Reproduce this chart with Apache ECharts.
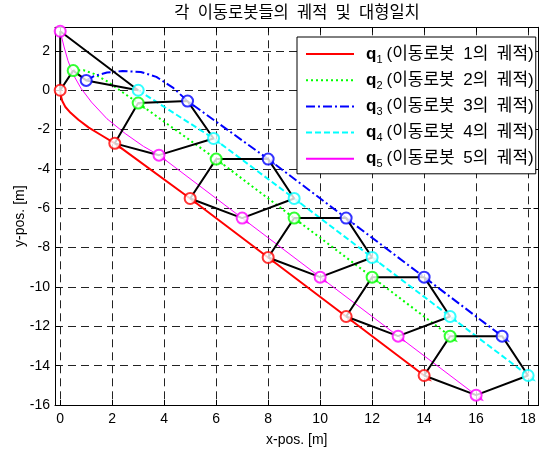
<!DOCTYPE html>
<html><head><meta charset="utf-8">
<script src="https://cdn.jsdelivr.net/npm/echarts@6/dist/echarts.min.js"></script>
<style>html,body{margin:0;padding:0;background:#fff}#c{width:540px;height:453px}</style>
</head><body><div id="c"></div>
<script>
// ---- data ----
const xTicks = [0, 2, 4, 6, 8, 10, 12, 14, 16, 18];
const yTicks = [-16, -14, -12, -10, -8, -6, -4, -2, 0, 2];
const robotIds = ['1', '2', '3', '4', '5'];
const titleText = '각\u2002이동로봇들의\u2002궤적\u2002및\u2002대형일치';
const legendText = ['(이동로봇\u20021의\u2002궤적)', '(이동로봇\u20022의\u2002궤적)', '(이동로봇\u20023의\u2002궤적)', '(이동로봇\u20024의\u2002궤적)', '(이동로봇\u20025의\u2002궤적)'];

// trajectories [x, y]
const q1Path = [[0,0],[0.02,-0.25],[0.08,-0.55],[0.2,-0.85],[0.4,-1.15],[0.7,-1.5],[1.1,-1.9],[1.6,-2.3],[2.1,-2.7],[5,-5.5],[8,-8.5],[11,-11.5],[14,-14.5]];
const q2Path = [[0.5,1],[0.9,1.02],[1.3,0.83],[1.8,0.46],[2.4,-0.1],[3,-0.65],[6,-3.5],[9,-6.5],[12,-9.5],[15,-12.5]];
const q3Path = [[1,0.5],[1.3,0.72],[1.8,0.9],[2.4,0.98],[3.1,0.93],[3.7,0.68],[4.35,0.12],[4.9,-0.55],[8,-3.5],[11,-6.5],[14,-9.5],[17,-12.5]];
const q4Path = [[3,0],[5.9,-2.45],[9,-5.5],[12,-8.5],[15,-11.5],[18,-14.5]];
const q5Path = [[0,3],[0.15,2.2],[0.3,1.5],[0.5,0.8],[0.8,0.1],[1.2,-0.6],[1.8,-1.45],[2.5,-2.2],[3.2,-2.85],[3.8,-3.3],[7,-6.5],[10,-9.5],[13,-12.5],[16,-15.5]];

// formation snapshots (positions at sampled instants)
const q1Snap = [[0,0],[2.1,-2.7],[5,-5.5],[8,-8.5],[11,-11.5],[14,-14.5]];
const q2Snap = [[0.5,1],[3,-0.65],[6,-3.5],[9,-6.5],[12,-9.5],[15,-12.5]];
const q3Snap = [[1,0.5],[4.9,-0.55],[8,-3.5],[11,-6.5],[14,-9.5],[17,-12.5]];
const q4Snap = [[3,0],[5.9,-2.45],[9,-5.5],[12,-8.5],[15,-11.5],[18,-14.5]];
const q5Snap = [[0,3],[3.8,-3.3],[7,-6.5],[10,-9.5],[13,-12.5],[16,-15.5]];

// ---- chart ----
const paths = [q1Path, q2Path, q3Path, q4Path, q5Path];
const snaps = [q1Snap, q2Snap, q3Snap, q4Snap, q5Snap];
const colors = ['#ff0000', '#00ff00', '#0000ff', '#00ffff', '#ff00ff'];
const lineTypes = ['solid', [2, 3], [9, 3, 2, 3], [6, 3], 'solid'];
const lineWidths = [2, 2, 2, 2, 1];
const names = robotIds.map(i => 'q' + i);

const series = [];
paths.forEach((p, i) => {
  series.push({
    name: names[i], type: 'line', data: p, symbol: 'none', z: 2,
    lineStyle: { color: colors[i], width: lineWidths[i], type: lineTypes[i] },
    itemStyle: { color: 'rgba(0,0,0,0)', borderColor: 'rgba(0,0,0,0)' }
  });
});
for (let k = 0; k < q1Snap.length; k++) {
  const poly = snaps.map(s => s[k]);
  poly.push(snaps[0][k]);
  series.push({
    type: 'line', data: poly, symbol: 'none', z: 3, silent: true,
    lineStyle: { color: '#000', width: 2 }
  });
}
snaps.forEach((s, i) => {
  // small direction arrow heads beside each sampled position
  series.push({
    type: 'scatter', data: s.slice(1), symbol: 'triangle', symbolSize: [5, 7],
    symbolRotate: -127, symbolOffset: [5, 4], z: 4, silent: true,
    itemStyle: { color: colors[i] }
  });
  series.push({
    type: 'scatter', data: s, symbol: 'emptyCircle', symbolSize: 11, z: 5,
    itemStyle: { color: colors[i], borderColor: colors[i], borderWidth: 1.6 }
  });
});

const FONT = '"Liberation Sans", Arial, "Noto Sans CJK KR", sans-serif';
const KFONT = '"Liberation Sans", "Noto Sans CJK KR", sans-serif';
const gridDash = { show: true, lineStyle: { color: '#222', width: 1, type: [8, 5] } };
const axisCommon = {
  axisLine: { show: true, onZero: false, lineStyle: { color: '#000', width: 1 } },
  axisTick: { show: true, inside: true, length: 5, lineStyle: { color: '#000' } }
};

const chart = echarts.init(document.getElementById('c'), null, { renderer: 'canvas' });
chart.setOption({
  animation: false,
  backgroundColor: '#fff',
  graphic: [{
    type: 'text', x: 297, y: 5, silent: true,
    style: { text: titleText, font: '16.5px ' + KFONT, fill: '#000', align: 'center', verticalAlign: 'top' }
  }],
  grid: { left: 55, right: 1.5, top: 27.3, bottom: 48 },
  legend: {
    data: names, orient: 'vertical', left: 297, top: 37,
    backgroundColor: '#fff', borderColor: '#000', borderWidth: 1, borderRadius: 0,
    padding: [6, 2, 4, 8], itemGap: 4.2, itemWidth: 48, itemHeight: 20,
    formatter: n => '{q|q}{s|' + n.slice(1) + '}{t|' + legendText[Number(n.slice(1)) - 1] + '}',
    textStyle: {
      lineHeight: 22,
      rich: {
        q: { fontFamily: FONT, fontWeight: 'bold', fontSize: 17, lineHeight: 22, padding: [0, 0, 0, 7], color: '#000' },
        s: { fontFamily: FONT, fontSize: 11, verticalAlign: 'bottom', padding: [0, 4, 0, 0], color: '#000' },
        t: { fontFamily: KFONT, fontSize: 17, lineHeight: 22, color: '#000' }
      }
    }
  },
  xAxis: [
    Object.assign({
      type: 'value', min: -0.2, max: 18.4, position: 'bottom',
      name: 'x-pos. [m]', nameLocation: 'middle', nameGap: 28, nameMoveOverlap: false,
      nameTextStyle: { fontFamily: FONT, fontSize: 14, color: '#000' },
      axisLabel: { customValues: xTicks, fontFamily: FONT, fontSize: 14, color: '#000', margin: 7 },
      splitLine: gridDash
    }, axisCommon, { axisTick: Object.assign({}, axisCommon.axisTick, { customValues: xTicks }) }),
    Object.assign({
      type: 'value', min: -0.2, max: 18.4, position: 'top',
      axisLabel: { show: false }, splitLine: { show: false }
    }, axisCommon, { axisTick: Object.assign({}, axisCommon.axisTick, { customValues: xTicks }) })
  ],
  yAxis: [
    Object.assign({
      type: 'value', min: -16, max: 3.2, position: 'left',
      name: 'y-pos. [m]', nameLocation: 'middle', nameGap: 28, nameRotate: 90, nameMoveOverlap: false,
      nameTextStyle: { fontFamily: FONT, fontSize: 14, color: '#000' },
      axisLabel: { customValues: yTicks, fontFamily: FONT, fontSize: 14, color: '#000', margin: 5 },
      splitLine: gridDash
    }, axisCommon, { axisTick: Object.assign({}, axisCommon.axisTick, { customValues: yTicks }) }),
    Object.assign({
      type: 'value', min: -16, max: 3.2, position: 'right',
      axisLabel: { show: false }, splitLine: { show: false }
    }, axisCommon, { axisTick: Object.assign({}, axisCommon.axisTick, { customValues: yTicks }) })
  ],
  series: series
});
</script>
</body></html>
